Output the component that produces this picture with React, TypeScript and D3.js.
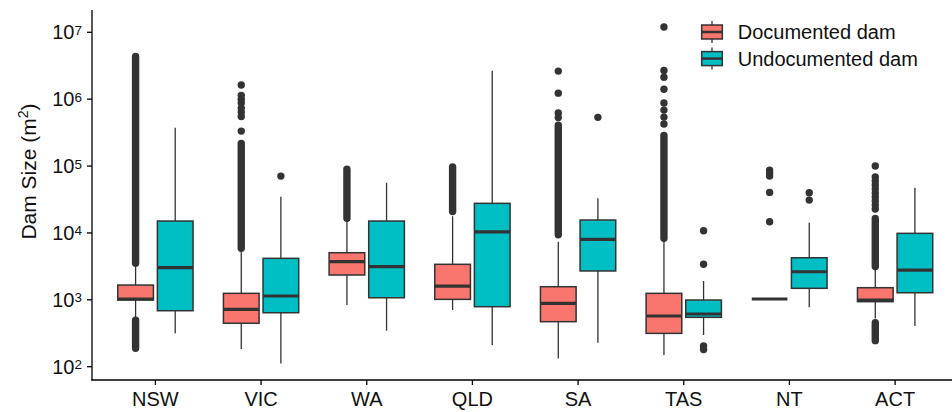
import React from "react";
import * as d3 from "d3";

const categories = ["NSW", "VIC", "WA", "QLD", "SA", "TAS", "NT", "ACT"];
const seriesNames = ["Documented dam", "Undocumented dam"];
const seriesColors = ["#F8766D", "#00BFC4"];
const yTickExponents = [2, 3, 4, 5, 6, 7];

// [lower whisker, Q1, median, Q3, upper whisker] in m²
const documentedStats = [
  [525, 993, 1028, 1663, 3090],
  [184, 446, 721, 1250, 5620],
  [836, 2350, 3715, 5060, 14800],
  [705, 1016, 1607, 3396, 17800],
  [133, 471, 885, 1570, 7400],
  [150, 315, 573, 1250, 7940],
  [1028, 1028, 1028, 1028, 1028],
  [525, 938, 993, 1517, 2820],
];
const undocumentedStats = [
  [315, 687, 3020, 15070, 374000],
  [112, 641, 1140, 4170, 34750],
  [345, 1074, 3126, 15070, 56200],
  [211, 789, 10400, 27700, 2660000],
  [229, 2700, 8020, 15600, 32900],
  [298, 547, 614, 993, 1910],
  [771, 1486, 2630, 4256, 14200],
  [406, 1276, 2786, 9860, 47400],
];

// ranges of outliers so dense that they overlap into a solid column [low, high]
const documentedDenseOutliers = [
  [[3525, 4340000], [189, 495]],
  [[5900, 217000]],
  [[16600, 89500]],
  [[20900, 97300]],
  [[9380, 407000]],
  [[8340, 288000]],
  [],
  [[3150, 16400], [245, 455]],
];
const undocumentedDenseOutliers = [[], [], [], [], [], [], [], []];

const documentedOutliers = [
  [],
  [1630000, 1140000, 1000000, 875000, 736000, 641000, 550000, 333000],
  [],
  [],
  [2630000, 1230000, 620000, 530000],
  [12000000, 2690000, 2130000, 1410000, 875000, 687000, 540000, 425000],
  [87000, 78500, 70800, 40400, 14700],
  [100000, 68500, 59700, 52000, 45300, 39400, 34400, 30000, 26100, 22800],
];
const undocumentedOutliers = [
  [],
  [70800],
  [],
  [],
  [535000],
  [10800, 3400, 204, 181],
  [39900, 31000],
  [],
];

const W = 952;
const H = 412;
const panelLeft = 92;
const panelRight = 958.5;
const panelTop = 10;
const panelBottom = 380;
const FONT = "'Liberation Sans', Arial, Helvetica, sans-serif";
const INK = "#333333";

export default function App() {
  const x = d3.scalePoint<string>().domain(categories).range([panelLeft, panelRight]).padding(0.6);
  const step = x.step();
  const y = d3.scaleLog().domain([100, 1e7]).range([366.7, 32.3]);
  const boxW = step * 0.3375;
  const dodge = step * 0.1875;
  const r = 3.7;

  const series = [
    { stats: documentedStats, dense: documentedDenseOutliers, outliers: documentedOutliers, off: -dodge, color: seriesColors[0] },
    { stats: undocumentedStats, dense: undocumentedDenseOutliers, outliers: undocumentedOutliers, off: dodge, color: seriesColors[1] },
  ];

  return (
    <svg width={W} height={H} style={{ position: "absolute", left: 0, top: 0, background: "#fff" }} fontFamily={FONT}>
      {categories.map((c, i) =>
        series.map((s, si) => {
          const cx = (x(c) as number) + s.off;
          const [lw, q1, med, q3, uw] = s.stats[i];
          return (
            <g key={c + si}>
              {s.dense[i].map((rg: number[], k: number) => (
                <line key={"d" + k} x1={cx} x2={cx} y1={y(rg[0])} y2={y(rg[1])} stroke={INK} strokeWidth={r * 2} strokeLinecap="round" />
              ))}
              {s.outliers[i].map((v: number, k: number) => (
                <circle key={"o" + k} cx={cx} cy={y(v)} r={r} fill={INK} />
              ))}
              <line x1={cx} x2={cx} y1={y(lw)} y2={y(q1)} stroke={INK} strokeWidth={1.3} />
              <line x1={cx} x2={cx} y1={y(q3)} y2={y(uw)} stroke={INK} strokeWidth={1.3} />
              <rect x={cx - boxW / 2} width={boxW} y={y(q3)} height={y(q1) - y(q3)} fill={s.color} stroke={INK} strokeWidth={1.5} />
              <line x1={cx - boxW / 2} x2={cx + boxW / 2} y1={y(med)} y2={y(med)} stroke={INK} strokeWidth={3.2} />
            </g>
          );
        })
      )}

      {/* axes */}
      <line x1={panelLeft} x2={panelLeft} y1={panelTop} y2={panelBottom + 0.6} stroke="#000" strokeWidth={1.3} />
      <line x1={panelLeft - 0.6} x2={W} y1={panelBottom} y2={panelBottom} stroke="#000" strokeWidth={1.3} />
      {yTickExponents.map((e) => {
        const ty = y(Math.pow(10, e));
        return (
          <g key={e}>
            <line x1={panelLeft - 5} x2={panelLeft} y1={ty} y2={ty} stroke="#000" strokeWidth={1.3} />
            <text x={82} y={ty + 7} textAnchor="end" fontSize={20} fill="#111">
              10
              <tspan dy={-4.5} fontSize={13.5}>{e}</tspan>
            </text>
          </g>
        );
      })}
      {categories.map((c) => (
        <g key={c}>
          <line x1={x(c)} x2={x(c)} y1={panelBottom} y2={panelBottom + 5} stroke="#000" strokeWidth={1.3} />
          <text x={x(c)} y={406} textAnchor="middle" fontSize={20} fill="#111">{c}</text>
        </g>
      ))}
      <text transform={`translate(36,171.5) rotate(-90)`} textAnchor="middle" fontSize={21} fill="#111">
        Dam Size (m<tspan dy={-8} fontSize={14}>2</tspan><tspan dy={8}>)</tspan>
      </text>

      {/* legend */}
      {seriesNames.map((n, i) => {
        const cy = 32 + i * 26.6;
        const kx = 712;
        return (
          <g key={n}>
            <line x1={kx} x2={kx} y1={cy - 11} y2={cy + 11} stroke={INK} strokeWidth={1.3} />
            <rect x={kx - 10.3} y={cy - 7} width={20.6} height={14} fill={seriesColors[i]} stroke={INK} strokeWidth={1.5} />
            <line x1={kx - 10.3} x2={kx + 10.3} y1={cy} y2={cy} stroke={INK} strokeWidth={2.5} />
            <text x={737.7} y={cy + 7} fontSize={20} fill="#111">{n}</text>
          </g>
        );
      })}
    </svg>
  );
}
